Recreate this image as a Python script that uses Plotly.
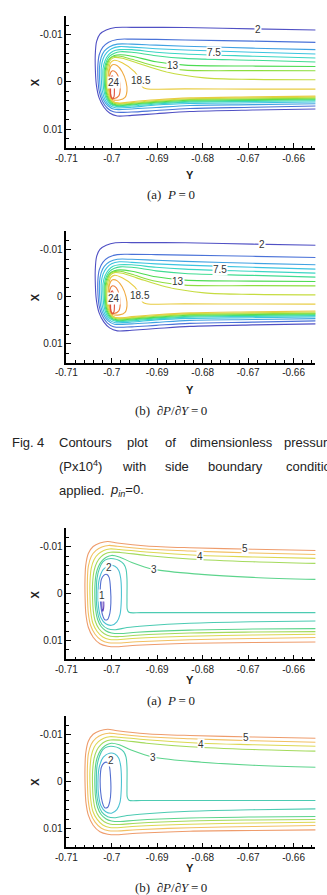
import plotly.graph_objects as go

# ---------------- axis ticks ----------------
Y_TICKS = [-0.71, -0.70, -0.69, -0.68, -0.67, -0.66]
Y_TICK_TEXT = ["-0.71", "-0.7", "-0.69", "-0.68", "-0.67", "-0.66"]
X_TICKS = [-0.01, 0.0, 0.01]
X_TICK_TEXT = ["-0.01", "0", "0.01"]
Y_RANGE = [-0.71, -0.6552]
X_RANGE = [0.014, -0.014]

# ---------------- pressure contours (Px10^4), figure 4 ----------------
PRESSURE_LEVELS = [2, 3.83, 5.67, 7.5, 9.33, 11.17, 13, 14.83, 16.67, 18.5, 20.33, 22.17, 24]
PRESSURE_Y = [
    [-0.6550, -0.6690, -0.68389, -0.69028, -0.6956, -0.69921, -0.70123, -0.70262, -0.70336, -0.70364, -0.70362,
     -0.7034, -0.70279, -0.70177, -0.70049, -0.69879, -0.6956, -0.69028, -0.68283, -0.6690, -0.6550],
    [-0.6550, -0.6690, -0.68389, -0.69028, -0.6956, -0.69879, -0.7007, -0.70198, -0.70277, -0.70306, -0.70304,
     -0.70279, -0.70209, -0.70102, -0.69964, -0.6956, -0.69028, -0.68283, -0.6690, -0.6550],
    [-0.6550, -0.6690, -0.68389, -0.69028, -0.6956, -0.69879, -0.70049, -0.70166, -0.70236, -0.7027, -0.70268,
     -0.70245, -0.70181, -0.70081, -0.69943, -0.6956, -0.69028, -0.68283, -0.6690, -0.6550],
    [-0.6550, -0.6690, -0.68389, -0.69028, -0.6956, -0.69836, -0.70006, -0.70113, -0.70191, -0.70232, -0.7023,
     -0.70209, -0.70151, -0.7006, -0.69921, -0.6956, -0.69028, -0.68283, -0.6690, -0.6550],
    [-0.6550, -0.6690, -0.68389, -0.69028, -0.6956, -0.69836, -0.69974, -0.7007, -0.70149, -0.70194, -0.70194,
     -0.70174, -0.70121, -0.70038, -0.699, -0.6956, -0.69028, -0.68283, -0.6690, -0.6550],
    [-0.6550, -0.6690, -0.68389, -0.69028, -0.6956, -0.69815, -0.69943, -0.70049, -0.70123, -0.70166, -0.70166,
     -0.70149, -0.70102, -0.70021, -0.69889, -0.6956, -0.69028, -0.68283, -0.6690, -0.6550],
    [-0.6550, -0.6690, -0.68389, -0.69028, -0.6956, -0.69815, -0.69943, -0.70038, -0.70106, -0.70145, -0.70145,
     -0.70128, -0.70085, -0.70006, -0.69879, -0.6956, -0.69028, -0.68283, -0.6690, -0.6550],
    [-0.6550, -0.6690, -0.68389, -0.69028, -0.6956, -0.69815, -0.69953, -0.70038, -0.70091, -0.70128, -0.70128,
     -0.70111, -0.7007, -0.69994, -0.69868, -0.6956, -0.69028, -0.68283, -0.6690, -0.6550],
    [-0.6550, -0.6690, -0.67964, -0.68815, -0.69453, -0.69772, -0.69943, -0.70028, -0.70079, -0.70109, -0.70109,
     -0.70094, -0.70053, -0.69979, -0.69857, -0.6956, -0.69028, -0.68283, -0.6690, -0.6550],
    [-0.6550, -0.6690, -0.68389, -0.6924, -0.69326, -0.69368, -0.69496, -0.69772, -0.69943, -0.70028, -0.70064,
     -0.70083, -0.70081, -0.7007, -0.70038, -0.69974, -0.69836, -0.6956, -0.69028, -0.68283, -0.6690, -0.6550],
    [-0.70053, -0.69985, -0.69879, -0.69772, -0.69687, -0.69666, -0.69709, -0.69836, -0.69985, -0.70038, -0.7006, -0.70053],
    [-0.70043, -0.69985, -0.699, -0.69836, -0.69815, -0.69847, -0.69943, -0.70006, -0.70038, -0.70043],
    [-0.70028, -0.6999, -0.69953, -0.69943, -0.69953, -0.69985, -0.70017, -0.70028, -0.70028],
]
PRESSURE_X = [
    [-0.01096, -0.01121, -0.01151, -0.01153, -0.01153, -0.01149, -0.01096, -0.01011, -0.00851, -0.00574, -0.00255,
     0.00064, 0.0034, 0.00532, 0.0066, 0.00723, 0.00709, 0.00674, 0.00628, 0.00596, 0.00575],
    [-0.00836, -0.00862, -0.00887, -0.00898, -0.00904, -0.00898, -0.0084, -0.00734, -0.00574, -0.00362, -0.00043,
     0.00191, 0.00404, 0.00553, 0.00634, 0.00638, 0.00606, 0.00564, 0.00538, 0.00511],
    [-0.00681, -0.00713, -0.00755, -0.00777, -0.00798, -0.00798, -0.00745, -0.00649, -0.00511, -0.00319, -0.00043,
     0.00191, 0.00383, 0.00511, 0.00581, 0.00574, 0.00543, 0.005, 0.00483, 0.00464],
    [-0.00589, -0.00628, -0.00674, -0.00702, -0.00734, -0.00745, -0.00702, -0.00617, -0.00489, -0.00298, -0.00043,
     0.00191, 0.00372, 0.00489, 0.00549, 0.00536, 0.00489, 0.00457, 0.00443, 0.00426],
    [-0.00504, -0.00543, -0.00589, -0.00628, -0.00681, -0.00681, -0.00649, -0.00574, -0.00447, -0.00277, -0.00043,
     0.00191, 0.00362, 0.00468, 0.00521, 0.00511, 0.00468, 0.0043, 0.00415, 0.004],
    [-0.00419, -0.00457, -0.00496, -0.00553, -0.00628, -0.00638, -0.00606, -0.00543, -0.00426, -0.00255, -0.00043,
     0.00191, 0.00351, 0.00457, 0.00504, 0.00489, 0.00447, 0.00411, 0.00394, 0.00379],
    [-0.00326, -0.00334, -0.00355, -0.00426, -0.00543, -0.00574, -0.00557, -0.00504, -0.00404, -0.00234, -0.00043,
     0.00191, 0.0034, 0.00447, 0.00489, 0.00472, 0.0043, 0.00391, 0.00377, 0.00362],
    [-0.00234, -0.00238, -0.00249, -0.0033, -0.00479, -0.00543, -0.00536, -0.00489, -0.00383, -0.00213, -0.00043,
     0.00191, 0.0033, 0.00432, 0.00472, 0.00455, 0.00413, 0.00374, 0.0036, 0.00345],
    [-0.00043, -0.00053, -0.00085, -0.00213, -0.00404, -0.005, -0.00515, -0.00468, -0.0034, -0.0017, -0.00043,
     0.00191, 0.00319, 0.00417, 0.00455, 0.00438, 0.00396, 0.00357, 0.0034, 0.00323],
    [0.00155, 0.00153, 0.00149, 0.00145, 0.00106, -0.00021, -0.00213, -0.00404, -0.00457, -0.00404, -0.00277,
     -0.00106, 0.00043, 0.00191, 0.00319, 0.00415, 0.00447, 0.00421, 0.00379, 0.0034, 0.00319, 0.00302],
    [-0.00255, -0.00362, -0.0034, -0.00213, 0.0, 0.00191, 0.0033, 0.00383, 0.00372, 0.00277, 0.00064, -0.00255],
    [-0.00149, -0.00234, -0.00191, -0.00043, 0.00149, 0.00298, 0.00351, 0.0033, 0.0017, -0.00149],
    [-0.00064, -0.00128, -0.00021, 0.0017, 0.00319, 0.00362, 0.00319, 0.00128, -0.00064],
]
PRESSURE_LABEL_TEXT = ["2", "7.5", "13", "18.5", "24"]
PRESSURE_LABEL_Y_A = [-0.66794, -0.67751, -0.68645, -0.69347, -0.69949]
PRESSURE_LABEL_X_A = [-0.0110, -0.00617, -0.0034, -0.00021, 0.00015]
PRESSURE_LABEL_Y_B = [-0.66702, -0.67609, -0.68545, -0.69383, -0.69949]
PRESSURE_LABEL_X_B = [-0.01106, -0.00589, -0.00326, -0.00021, 0.00043]

# ---------------- second field contours ----------------
FIELD2_LEVELS = [5, 4.5, 4, 3.5, 3, 2.5, 2, 1.5, 1]
FIELD2_Y = [
    [-0.6550, -0.6690, -0.68283, -0.6924, -0.69879, -0.70091, -0.70262, -0.70411, -0.70517, -0.70574, -0.70591,
     -0.70587, -0.7057, -0.70517, -0.70411, -0.70262, -0.70091, -0.69879, -0.69453, -0.68283, -0.6690, -0.6550],
    [-0.6550, -0.6690, -0.68283, -0.6924, -0.69879, -0.7007, -0.70219, -0.70347, -0.70453, -0.70517, -0.70538,
     -0.70534, -0.70517, -0.70468, -0.70368, -0.7023, -0.7007, -0.69879, -0.69453, -0.68283, -0.6690, -0.6550],
    [-0.6550, -0.6690, -0.68049, -0.6924, -0.69836, -0.70049, -0.70177, -0.70294, -0.70389, -0.70453, -0.70481,
     -0.70479, -0.70462, -0.70417, -0.70326, -0.70198, -0.70049, -0.69879, -0.69453, -0.68283, -0.6690, -0.6550],
    [-0.6550, -0.6690, -0.68283, -0.6924, -0.69815, -0.70028, -0.70145, -0.7024, -0.7033, -0.70389, -0.70423,
     -0.70423, -0.70406, -0.70364, -0.70283, -0.70166, -0.70028, -0.69836, -0.69453, -0.68283, -0.6690, -0.6550],
    [-0.6550, -0.6690, -0.68028, -0.6907, -0.6956, -0.69836, -0.70006, -0.70113, -0.70209, -0.70294, -0.70347,
     -0.70372, -0.70372, -0.70355, -0.70315, -0.7024, -0.70134, -0.70006, -0.69815, -0.69453, -0.68283, -0.6690, -0.6550],
    [-0.6550, -0.6690, -0.68283, -0.6924, -0.69666, -0.69921, -0.70091, -0.70219, -0.70294, -0.70336, -0.7034,
     -0.70326, -0.70272, -0.70198, -0.70091, -0.69964, -0.69836, -0.6974, -0.69687, -0.69666, -0.69666, -0.6966,
     -0.69623, -0.69347, -0.68283, -0.6690, -0.6550],
    [-0.70187, -0.70049, -0.69932, -0.69847, -0.69804, -0.69789, -0.69794, -0.69819, -0.69889, -0.70006, -0.70134,
     -0.7024, -0.70294, -0.70304, -0.70277, -0.70187],
    [-0.70177, -0.70113, -0.7006, -0.70028, -0.70021, -0.70043, -0.70091, -0.70155, -0.70209, -0.70245, -0.70255,
     -0.7023, -0.70177],
    [-0.70213, -0.70191, -0.70177, -0.70181, -0.70198, -0.70215, -0.70219, -0.70213],
]
FIELD2_X = [
    [-0.00921, -0.00947, -0.00979, -0.01017, -0.01081, -0.01113, -0.01081, -0.01006, -0.00857, -0.00602, -0.00262,
     0.00121, 0.0044, 0.00717, 0.0093, 0.01068, 0.01121, 0.01132, 0.011, 0.01057, 0.01043, 0.0103],
    [-0.00836, -0.00868, -0.00911, -0.00953, -0.01011, -0.01028, -0.00996, -0.00921, -0.00794, -0.00581, -0.00262,
     0.00121, 0.00419, 0.00674, 0.00866, 0.00994, 0.01047, 0.01053, 0.01026, 0.00983, 0.00957, 0.00936],
    [-0.00751, -0.00783, -0.00815, -0.00889, -0.00943, -0.00953, -0.00921, -0.00847, -0.0073, -0.00538, -0.0024,
     0.00121, 0.00398, 0.00632, 0.00802, 0.00926, 0.00979, 0.00983, 0.00951, 0.00909, 0.00883, 0.00866],
    [-0.00645, -0.00681, -0.0074, -0.00815, -0.00879, -0.00883, -0.00851, -0.00783, -0.00666, -0.00496, -0.00219,
     0.00121, 0.00377, 0.00589, 0.00749, 0.00855, 0.00909, 0.00915, 0.00887, 0.0084, 0.00819, 0.00809],
    [-0.00304, -0.00347, -0.00411, -0.00517, -0.00666, -0.00783, -0.00815, -0.00783, -0.00709, -0.00581, -0.00411,
     -0.00155, 0.00121, 0.00355, 0.00547, 0.00696, 0.00791, 0.0084, 0.00851, 0.00823, 0.00777, 0.00755, 0.00745],
    [0.00583, 0.006, 0.00632, 0.00685, 0.00723, 0.0077, 0.00749, 0.00653, 0.00483, 0.00228, -0.00049, -0.00326,
     -0.00538, -0.00677, -0.0074, -0.00745, -0.00709, -0.00634, -0.00517, -0.00304, 0.00121, 0.00334, 0.00398,
     0.00404, 0.00404, 0.00404, 0.00404],
    [-0.00517, -0.00602, -0.00585, -0.00496, -0.00326, -0.00091, 0.00206, 0.0044, 0.006, 0.00674, 0.00643,
     0.00515, 0.0027, -0.00028, -0.00304, -0.00517],
    [-0.00389, -0.00411, -0.00347, -0.00091, 0.00206, 0.00419, 0.00547, 0.00557, 0.0044, 0.00228, -0.00091,
     -0.00304, -0.00389],
    [0.001, 0.00089, 0.00185, 0.00313, 0.00377, 0.00313, 0.00185, 0.001],
]
FIELD2_LABEL_TEXT_A = ["5", "4", "3", "2", "1"]
FIELD2_LABEL_Y_A = [-0.67077, -0.68049, -0.69064, -0.70055, -0.70213]
FIELD2_LABEL_X_A = [-0.00957, -0.00783, -0.00517, -0.00566, 0.00047]
FIELD2_LABEL_TEXT_B = ["5", "4", "3", "2"]
FIELD2_LABEL_Y_B = [-0.67043, -0.68034, -0.69098, -0.70021]
FIELD2_LABEL_X_B = [-0.00936, -0.00781, -0.00519, -0.0044]

# ---------------- styles ----------------
PRESSURE_COLORS = ['#5050c4', '#4a72d8', '#40a2e2', '#3cc4e0', '#3cd6c4', '#40dc92', '#4cdc52',
                   '#8ede40', '#c6dc40', '#e8cc42', '#f0aa40', '#ec8040', '#de503a']
FIELD2_COLORS = ['#ee9c6c', '#f2c062', '#dcd852', '#a4da5c', '#5cd48c', '#4ccbb2', '#4cc2d2',
                 '#5470d0', '#6446bc']

W, H = 327, 895
PLOT_LEFT, PLOT_RIGHT = 57.3, 315.0
PANELS = [  # top px, bottom px, zero-row px, caption, caption px, Y-title px
    dict(top=15.7, bot=148.0, mid=82.0, cap="(a)\u00a0\u00a0<i>P</i>\u2009=\u20090", cap_y=195, ytitle=175),
    dict(top=231.0, bot=362.7, mid=297.0, cap="(b)\u00a0\u00a0\u2202<i>P</i>/\u2202<i>Y</i>\u2009=\u20090", cap_y=410, ytitle=390),
    dict(top=528.0, bot=659.3, mid=594.3, cap="(a)\u00a0\u00a0<i>P</i>\u2009=\u20090", cap_y=700, ytitle=680),
    dict(top=715.7, bot=847.3, mid=781.7, cap="(b)\u00a0\u00a0\u2202<i>P</i>/\u2202<i>Y</i>\u2009=\u20090", cap_y=887, ytitle=868),
]

panel_lines = [
    (PRESSURE_Y, PRESSURE_X, PRESSURE_COLORS),
    (PRESSURE_Y, PRESSURE_X, PRESSURE_COLORS),
    (FIELD2_Y, FIELD2_X, FIELD2_COLORS),
    (FIELD2_Y[:-1], FIELD2_X[:-1], FIELD2_COLORS[:-1]),
]
panel_labels = [
    (PRESSURE_LABEL_TEXT, PRESSURE_LABEL_Y_A, PRESSURE_LABEL_X_A),
    (PRESSURE_LABEL_TEXT, PRESSURE_LABEL_Y_B, PRESSURE_LABEL_X_B),
    (FIELD2_LABEL_TEXT_A, FIELD2_LABEL_Y_A, FIELD2_LABEL_X_A),
    (FIELD2_LABEL_TEXT_B, FIELD2_LABEL_Y_B, FIELD2_LABEL_X_B),
]

SANS = "Liberation Sans, Arial, sans-serif"
SERIF = "Liberation Serif, Times New Roman, serif"

fig = go.Figure()
annotations = []
layout_axes = {}


def paper_text(text, px, py, font, angle=0, xanchor="center"):
    return dict(x=px / W, y=1 - py / H, xref="paper", yref="paper", text=text,
                xanchor=xanchor, yanchor="middle", textangle=angle, showarrow=False, font=font)


for i, p in enumerate(PANELS, start=1):
    sx = "" if i == 1 else str(i)
    xa, ya = "x" + sx, "y" + sx
    ys, xs, cols = panel_lines[i - 1]
    for yv, xv, c in zip(ys, xs, cols):
        fig.add_trace(go.Scatter(
            x=yv, y=xv, mode="lines", xaxis=xa, yaxis=ya,
            line=dict(color=c, width=1.1, shape="spline", smoothing=0.9),
            hoverinfo="skip", showlegend=False))
    txt, ly, lx = panel_labels[i - 1]
    for t, yy, xx in zip(txt, ly, lx):
        annotations.append(dict(x=yy, y=xx, xref=xa, yref=ya, text=t, showarrow=False,
                                xanchor="center", yanchor="middle",
                                font=dict(family=SANS, size=10, color="#333"),
                                bgcolor="white", borderpad=0))
    dom = [1 - p["bot"] / H, 1 - p["top"] / H]
    layout_axes["xaxis" + sx] = dict(
        domain=[PLOT_LEFT / W, PLOT_RIGHT / W], range=Y_RANGE, anchor=ya,
        showline=True, linecolor="black", linewidth=1.5, showgrid=False, zeroline=False,
        ticks="inside", ticklen=5, tickwidth=1, tickcolor="black",
        tickmode="array", tickvals=Y_TICKS, ticktext=Y_TICK_TEXT,
        tickfont=dict(family=SANS, size=10, color="#222"),
        minor=dict(tickmode="linear", tick0=-0.71, dtick=0.002, ticks="inside",
                   ticklen=2.5, tickwidth=1, tickcolor="black", showgrid=False),
        fixedrange=True)
    layout_axes["yaxis" + sx] = dict(
        domain=dom, range=X_RANGE, anchor=xa,
        showline=True, linecolor="black", linewidth=1.5, showgrid=False, zeroline=False,
        ticks="inside", ticklen=5, tickwidth=1, tickcolor="black",
        tickmode="array", tickvals=X_TICKS, ticktext=X_TICK_TEXT,
        tickfont=dict(family=SANS, size=10, color="#222"),
        minor=dict(tickmode="linear", tick0=0, dtick=0.002, ticks="inside",
                   ticklen=2.5, tickwidth=1, tickcolor="black", showgrid=False),
        fixedrange=True)
    # axis titles and sub-captions
    annotations.append(paper_text("<b>X</b>", 25, p["mid"], dict(family=SANS, size=11, color="#222"), angle=-90))
    annotations.append(paper_text("<b>Y</b>", 185, p["ytitle"], dict(family=SANS, size=11, color="#222")))
    annotations.append(paper_text(p["cap"], 166, p["cap_y"], dict(family=SERIF, size=13, color="#222")))

# figure caption, word by word (justified text, clipped at the page edge as in the source)
CAPTION_WORDS = [
    ("Fig.", -1, 442), ("4", 25, 442), ("Contours", 48, 442), ("plot", 118, 442), ("of", 157, 442),
    ("dimensionless", 183, 442), ("pressure", 280, 442),
    ("(Px10<sup>4</sup>)", 48, 466), ("with", 113, 466), ("side", 157, 466), ("boundary", 202, 466),
    ("condition", 282, 466),
    ("applied.", 48, 490), ("<i>p</i><sub><i>in</i></sub>=0.", 100, 490),
]
for t, px, py in CAPTION_WORDS:
    annotations.append(paper_text(t, px, py, dict(family=SANS, size=13, color="#222"), xanchor="left"))

fig.update_layout(
    width=W, height=H, margin=dict(l=0, r=0, t=0, b=0),
    paper_bgcolor="white", plot_bgcolor="white",
    showlegend=False, annotations=annotations, **layout_axes)

fig.write_html("out.html")
